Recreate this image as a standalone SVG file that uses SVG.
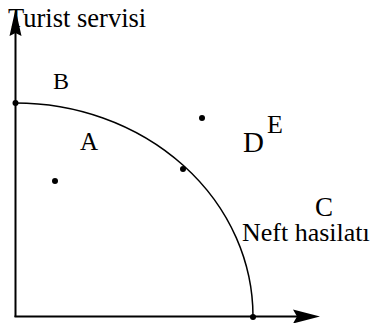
<svg xmlns="http://www.w3.org/2000/svg" width="372" height="323" viewBox="0 0 372 323">
<style>
.ax{stroke:#000;stroke-width:2;fill:none}
.cv{stroke:#000;stroke-width:1.5;fill:none}
.dot{fill:#000}
text{font-family:'Liberation Serif','Times New Roman',serif;fill:#000}
</style>
<rect width="372" height="323" fill="#fff"/>
<g id="connectors">
<line class="ax" x1="15.5" y1="317" x2="15.5" y2="30"/>
<polygon points="15.5,9 21.5,36 15.5,33 9.5,36" fill="#000"/>
<line class="ax" x1="14.5" y1="316.5" x2="300" y2="316.5"/>
<polygon points="320,316.5 293,309.5 297,316.5 293,323.5" fill="#000"/>
<path class="cv" d="M15.5,103 A237.5,213.5 0 0 1 253,316.5"/>
</g>
<g id="points">
<circle class="dot" cx="15.5" cy="103" r="3"/>
<circle class="dot" cx="183" cy="169" r="3"/>
<circle class="dot" cx="253" cy="317" r="3"/>
<circle class="dot" cx="55" cy="181" r="3"/>
<circle class="dot" cx="202" cy="118" r="3"/>
</g>
<g id="labels">
<text x="8" y="27" font-size="26.5">Turist servisi</text>
<text x="53" y="89" font-size="24">B</text>
<text x="80" y="150" font-size="25">A</text>
<text x="243" y="152" font-size="29">D</text>
<text x="267" y="133" font-size="26">E</text>
<text x="315" y="216" font-size="27">C</text>
<text x="242" y="241" font-size="26">Neft hasilatı</text>
</g>
</svg>
